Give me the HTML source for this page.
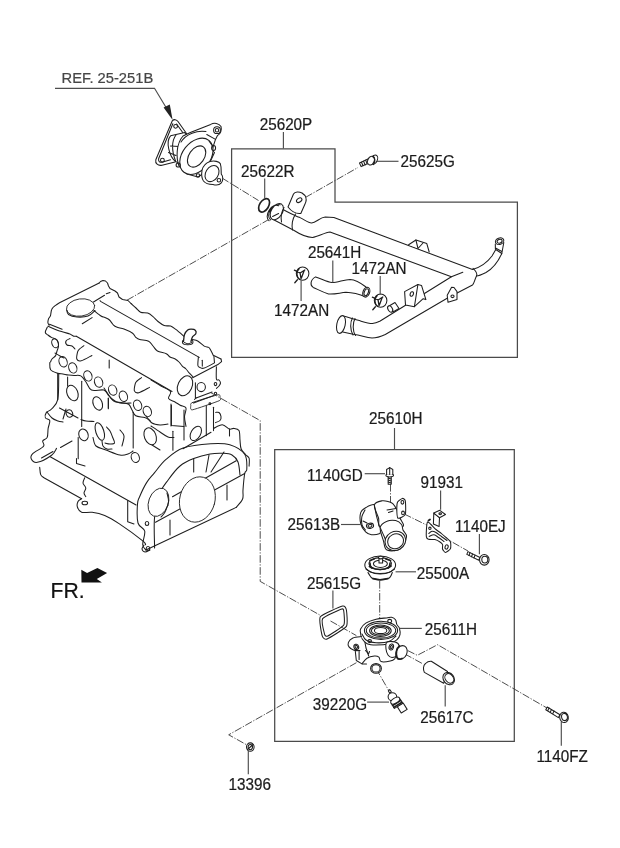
<!DOCTYPE html>
<html><head><meta charset="utf-8"><style>
html,body{margin:0;padding:0;background:#fff;}
svg{display:block;}
text{font-family:"Liberation Sans",sans-serif;font-size:15px;fill:#1a1a1a;}
.ln{fill:none;stroke:#4d4d4d;stroke-width:1.15;}
.bx{fill:none;stroke:#4a4a4a;stroke-width:1.25;}
.dd{fill:none;stroke:#3a3a3a;stroke-width:0.9;stroke-dasharray:7.6 1.6 1.2 1.6;}
.pt{fill:#fff;stroke:#1e1e1e;stroke-width:1.05;stroke-linejoin:round;stroke-linecap:round;}
.pn{fill:none;stroke:#1e1e1e;stroke-width:1.05;stroke-linejoin:round;stroke-linecap:round;}
.pe{fill:none;stroke:#2a2a2a;stroke-width:0.9;stroke-linejoin:round;stroke-linecap:round;}
.pf{fill:#fff;stroke:#2a2a2a;stroke-width:0.9;stroke-linejoin:round;stroke-linecap:round;}
</style></head><body>
<svg width="620" height="848" viewBox="0 0 620 848">
<rect width="620" height="848" fill="#fff"/>
<path class="dd" d="M127 300.2 L270.5 218.5"/>
<g id="engine">
<path class="pf" d="M47.7 322 L49.5 312.3 L57 304 L99.2 283 L104.5 280.8 L108 283.9 L110 288.5 L117 292 L119 297 L122.5 299.5 L131 303.5 L140.6 312.2 L153 316.6 L161 324.6 L173.5 328.1 L183.2 335.2 L193.9 340.6 L208 346.8 L213.4 355.6 L221.4 359.2 L221.5 363 L216.4 366.7 L216.4 379 L220 384 L216.4 388.5 L219.4 397.9 L213.5 407.3 L215.7 412.4 L213.5 428.4 L222.3 424.8 L233.9 428.4 L239 430.6 L241.1 448.7 L249.1 458.1 L249.1 466.1 L244.7 473.5 L242.6 499 L236.2 507.4 L145.9 550 L142.4 540.6 L119.4 523.9 L104.7 515.5 L92.1 512.3 L81.6 512.3 L77.4 509.2 L79.5 500.8 L43.9 477.7 L40.7 474.6 L39.7 467.3 L34.4 461 L31.3 454.7 L42.7 441 L47.2 437.4 L48.1 428.6 L45.4 417.9 L51.6 409 L57.8 399.3 L57.7 373 L49.8 369.7 L49.8 362.6 L45.3 330.6 Z" style="stroke:none"/>
<path class="pn" d="M49.2 325.3 C49 324.9 48 323.8 47.9 322.7 C47.8 321.6 48.1 320.1 48.5 318.9 C48.9 317.7 50 317.2 50.5 315.6 C51 314 50.9 310.9 51.8 309.2 C52.6 307.5 54.2 306.4 55.6 305.3 C57 304.2 59.3 303 60 302.5 L99.2 283"/>
<path class="pn" d="M99.2 283 L100.5 281.5 L103 280.5 L105.5 281 L107.5 283 L108.5 286 L110 288.5 L115 291 L117.5 293 L119 297 L122.5 299.5 L128 300.5 L131 303.5"/>
<path class="pn" d="M131 303.5 C131.8 304.2 134.4 306.6 136 308 C137.6 309.4 138.7 311.3 140.6 312.2 C142.5 313.1 145.6 312.4 147.7 313.1 C149.8 313.8 151.3 315.2 153 316.6 C154.7 318 156.1 320 158 321.5 C159.9 323 162.1 324.7 164.2 325.5 C166.3 326.3 168.7 325.5 170.6 326.1 C172.5 326.8 173.5 327.7 175.8 329.4 C178.1 331.1 182.8 335.3 184.2 336.5"/>
<path class="pn" d="M192.5 339.5 C193.4 339.8 195.8 339.9 197.7 341 C199.6 342.1 202.4 345 204.2 346.1 C206 347.2 207.6 346.8 208.7 347.4 C209.8 348 209.8 348.7 210.6 350 C211.3 351.3 212.8 354.3 213.2 355.2 L221 359"/>
<path class="pn" d="M221 359 L221.6 361.6 L218.4 364.2 L192.6 377.7"/>
<path class="pn" d="M198.4 357.1 C198.3 358.5 197.6 363.8 197.9 365.5 C198.2 367.2 198.9 367.1 200 367.5 C201.1 367.9 201.8 368.9 204.2 368.1 C206.6 367.3 212.8 363.8 214.5 362.9 L213.9 356.2"/>
<ellipse class="pt" cx="187.7" cy="342" rx="5.3" ry="2.8"/>
<path class="pt" d="M183.5 341.5 C183.7 340.3 183.8 336.4 184.5 334.5 C185.2 332.6 186.6 330.9 187.7 330 C188.8 329.1 190 329.2 191.3 329.2 C192.6 329.2 194.6 329.4 195.3 330.2 C196.1 331 196.3 332.7 195.8 333.8 C195.3 334.9 193.3 335.5 192.5 336.8 C191.7 338.1 191.2 340.7 191 341.5" style="stroke-width:1.3"/>
<path class="pn" d="M184.5 342.5 C185.1 342.7 186.8 343.8 188 343.8 C189.2 343.8 190.9 342.7 191.5 342.5"/>
<ellipse class="pf" cx="80.6" cy="307.5" rx="14.2" ry="8.6" transform="rotate(-8 80.6 307.5)"/>
<path class="pn" d="M66.7 310 C67 310.8 66.8 313.3 68.5 314.5 C70.2 315.7 73.8 316.8 77 317 C80.2 317.2 85 317.1 88 316 C91 314.9 93.8 311.4 95 310.5"/>
<path class="pn" d="M82.3 323.8 L92.1 317.6"/>
<path class="pn" d="M100 300.7 L101 301.6 L199.2 357.4"/>
<path class="pn" d="M93.9 310.5 C95.1 311.4 99.2 314.8 101 316 C102.8 317.2 103.6 316.8 105 317.5 C106.4 318.2 108.2 318.8 109.5 320 C110.8 321.2 111.8 323.3 113 324.5 C114.2 325.7 114.8 326.4 116.6 327.1 C118.4 327.9 121.3 328 124 329 C126.7 330 130.6 331.9 132.6 333.3 C134.6 334.7 134.8 336.5 136 337.5 C137.2 338.5 137.6 338.9 139.7 339.5 C141.8 340.1 146.4 340.2 148.6 341.3 C150.8 342.4 151.5 344.4 153 346 C154.5 347.6 155.2 349.7 157.4 351 C159.6 352.3 164.2 352.7 166.3 353.7 C168.4 354.7 168.5 356.1 170 357 C171.5 357.9 173.7 358.2 175.2 359 C176.7 359.8 177.8 360.8 179 362 C180.2 363.2 181.1 364.9 182.3 366.1 C183.5 367.3 184.8 367.8 186 369 C187.2 370.2 188.2 371.9 189.4 373.2 C190.6 374.5 192.3 376.2 192.9 376.8"/>
<path class="pn" d="M49.5 324.2 L62.1 329.2"/>
<path class="pn" d="M76.3 336.3 L172 391.5"/>
<path class="pn" d="M47.9 326.2 C49.6 326.9 54.4 329.2 58 330.5 C61.6 331.8 67.8 333.3 69.8 333.9 L73.7 336.3 L76.3 336.3"/>
<path class="pn" d="M47.3 327.3 C47 328.1 45.2 331.1 45.3 332.4 C45.4 333.7 46.8 334.1 47.9 335 C49 335.9 50.3 336.8 51.8 337.6 C53.3 338.4 55.9 338.6 57 340 C58.1 341.4 58.5 344.2 58.5 346 C58.5 347.8 57.5 349.4 57 351 C56.5 352.6 56.4 354.3 55.6 355.6 C54.8 356.9 52.9 357.9 52 359 C51.1 360.1 50.8 361.5 50.5 362"/>
<path class="pn" d="M70 338.5 C69.3 338.9 66.5 339.9 66 341 C65.5 342.1 66 344.2 67 345 C68 345.8 70.7 345.3 72 346 C73.3 346.7 74.5 348.5 75 349"/>
<ellipse class="pn" cx="55.1" cy="343.3" rx="3.2" ry="4.6" transform="rotate(-20 55.1 343.3)"/>
<ellipse class="pn" cx="63.1" cy="361.7" rx="4" ry="5.3" transform="rotate(-20 63.1 361.7)"/>
<ellipse class="pn" cx="72.8" cy="367.9" rx="4" ry="5.3" transform="rotate(-20 72.8 367.9)"/>
<ellipse class="pn" cx="87.9" cy="375.9" rx="4" ry="5.3" transform="rotate(-20 87.9 375.9)"/>
<ellipse class="pn" cx="98.6" cy="382.1" rx="4" ry="5.3" transform="rotate(-20 98.6 382.1)"/>
<ellipse class="pn" cx="112.7" cy="390.1" rx="4" ry="5.3" transform="rotate(-20 112.7 390.1)"/>
<ellipse class="pn" cx="123.4" cy="396.3" rx="4" ry="5.3" transform="rotate(-20 123.4 396.3)"/>
<ellipse class="pn" cx="137.6" cy="405.2" rx="4" ry="5.3" transform="rotate(-20 137.6 405.2)"/>
<ellipse class="pn" cx="147.3" cy="411.4" rx="4" ry="5.3" transform="rotate(-20 147.3 411.4)"/>
<ellipse class="pn" cx="72.4" cy="393" rx="5.4" ry="8" transform="rotate(-22 72.4 393)"/>
<ellipse class="pn" cx="97.7" cy="403.4" rx="4.5" ry="7" transform="rotate(-22 97.7 403.4)"/>
<ellipse class="pn" cx="150.2" cy="436.3" rx="5.8" ry="8.8" transform="rotate(-22 150.2 436.3)"/>
<ellipse class="pn" cx="195.8" cy="433.4" rx="4.8" ry="7.8" transform="rotate(30 195.8 433.4)"/>
<ellipse class="pn" cx="135.3" cy="457.5" rx="4" ry="5" transform="rotate(-20 135.3 457.5)"/>
<ellipse class="pn" cx="83.5" cy="434.8" rx="4.6" ry="6" transform="rotate(-20 83.5 434.8)"/>
<ellipse class="pn" cx="69.4" cy="413.5" rx="3.2" ry="3.8" transform="rotate(-20 69.4 413.5)"/>
<ellipse class="pn" cx="99.8" cy="431.5" rx="4" ry="9.2" transform="rotate(-18 99.8 431.5)"/>
<path class="pn" d="M49.8 362.6 C49.9 363.8 49.3 367.9 50.6 369.7 C51.9 371.5 55.6 372.5 57.7 373.2 C59.8 373.9 61.2 373.7 63 374 C64.8 374.3 66.6 374.8 68.4 375 C70.2 375.2 71.9 375.4 74 375.5 C76.1 375.6 78.8 374.8 80.8 375.9 C82.8 377 84.2 379.6 86 382 C87.8 384.4 88.5 388.8 91.5 390.1 C94.5 391.5 101 389.1 103.9 390.1 C106.8 391.1 107.2 394.1 109 396 C110.8 397.9 112.5 400.5 114.5 401.6 C116.5 402.7 118.6 402.1 121 402.5 C123.4 402.9 126.9 403.1 128.7 404.3 C130.5 405.6 130.8 408.1 132 410 C133.2 411.9 133.7 414.5 135.8 415.8 C137.9 417.1 142.3 416.8 144.7 417.6 C147.1 418.4 149.1 420 150 420.5"/>
<path class="pn" d="M83.9 345.7 C83.2 346.3 80.5 348.1 79.4 349.1 C78.4 350.1 78 350.2 77.6 351.9 C77.2 353.5 76.2 357.5 76.8 359 C77.4 360.5 78.7 361.4 81.2 360.8 C83.7 360.2 90.1 356.4 91.9 355.5"/>
<path class="pn" d="M141.5 377.6 C140.8 378.2 138.1 380 137 381 C135.9 382 135.6 382.1 135.2 383.8 C134.8 385.4 133.8 389.4 134.4 390.9 C135 392.4 136.3 393.3 138.8 392.7 C141.3 392.1 147.7 388.3 149.5 387.4"/>
<path class="pn" d="M81.7 381.2 L81.7 426.5"/>
<path class="pn" d="M109.2 359.9 L109.2 367.9"/>
<path class="pn" d="M108.3 398 L108.3 408.7"/>
<path class="pn" d="M133.2 412.3 L133.2 448"/>
<path class="pn" d="M67.6 377.1 L67.6 386"/>
<path class="pn" d="M78.2 437.4 L78.2 458.7"/>
<path class="pn" d="M108.4 398.4 L108.4 408.1"/>
<path class="pn" d="M195.4 382.7 L195.4 397.9"/>
<path class="pn" d="M206.3 405.2 L206.3 435.6"/>
<path class="pn" d="M213.5 407.3 L213.5 430.6"/>
<path class="pn" d="M172.9 431.3 L172.9 450.2"/>
<path class="pn" d="M57.7 373.2 L57.7 399.8"/>
<path class="pn" d="M171 404 L171 426"/>
<path class="pn" d="M184 410 L184 440"/>
<ellipse class="pn" cx="185" cy="385.8" rx="7" ry="10.5" transform="rotate(25 185 385.8)"/>
<ellipse class="pn" cx="201.2" cy="387" rx="4.2" ry="4.6"/>
<path class="pf" d="M192.5 402.5 C189.8 403.6 190.8 404.8 190.8 405.5 C190.8 406.2 189.7 410.3 192.5 409.8 C195.3 409.3 216.2 402 219 400.8 C221.8 399.6 220.1 398.1 220 397.5 C219.9 396.9 220.8 394.3 218 394.8 C215.2 395.3 195.2 401.4 192.5 402.5 Z"/>
<path class="pn" d="M193.5 403 L213.8 395.6"/>
<path class="pn" d="M196.1 397.9 L212.1 392.1"/>
<path class="pn" d="M194.5 399.5 L196.1 397.9"/>
<ellipse class="pn" cx="209.9" cy="403.7" rx="0.9" ry="0.9"/>
<path class="pn" d="M216.4 366.7 C216.4 368.8 216 376.8 216.4 379 C216.8 381.2 218.3 379.3 219 380 C219.7 380.7 220.5 382 220.5 383 C220.5 384 219.7 385.1 219 386 C218.3 386.9 216.8 388.1 216.4 388.5"/>
<ellipse class="pn" cx="215.5" cy="384" rx="1.3" ry="1.6"/>
<path class="pn" d="M215.7 412.4 C216.2 412.4 218.1 411.8 219 412.5 C219.9 413.2 220.8 415.2 221 416.5 C221.2 417.8 220.9 419.5 220 420.5 C219.1 421.5 216.2 422.2 215.5 422.6"/>
<path class="pn" d="M213.5 428.4 C215 427.8 219.6 424.7 222.3 424.8 C225 424.9 227.6 428.5 229.5 429.1 C231.4 429.7 232.3 428.1 233.9 428.4 C235.5 428.6 238 428.7 239 430.6 C240 432.5 239.7 437 240 440 C240.3 443 240.2 446.3 241.1 448.7 C242 451.1 244.2 452.9 245.5 454.5 C246.8 456.1 248.5 456.2 249.1 458.1 C249.7 460 249.1 464.8 249.1 466.1"/>
<path class="pn" d="M229.5 429.1 L229.5 436"/>
<path class="pn" d="M58.7 373.5 C58.6 377.8 59 393.4 57.8 399.3 C56.6 405.2 53.5 406.8 51.6 409 C49.7 411.2 47.3 411.1 46.3 412.6 C45.3 414.1 44.8 416.6 45.4 417.9 C46 419.2 49.3 418.8 49.8 420.6 C50.2 422.4 48.5 425.8 48.1 428.6 C47.7 431.4 48.1 435.3 47.2 437.4 C46.3 439.5 43.3 439.5 42.7 441 C42.1 442.5 45.2 444.2 43.6 446.3 C42 448.4 35.1 451.3 33 453.4 C30.9 455.5 30.5 457.2 31.2 458.7 C31.9 460.2 34 462.9 37.4 462.3 C40.8 461.7 48.4 457.5 51.6 455.2 C54.8 452.9 55.7 449.5 56.5 448.4"/>
<path class="pn" d="M47 412 C47.8 413 50.2 416.5 52 418 C53.8 419.5 56.2 420.3 58 421 C59.8 421.7 62.2 421.8 63 422"/>
<path class="pn" d="M39.7 467.3 C39.9 468.5 40 472.9 40.7 474.6 C41.4 476.3 43.4 477.2 43.9 477.7 L81.6 498.7"/>
<path class="pn" d="M50.2 456.8 L136.1 505"/>
<path class="pn" d="M84.8 477.7 C84.5 478.6 82.8 481.3 83 483 C83.2 484.7 85.6 486.3 85.8 488 C86 489.7 84 491.6 84 493 C84 494.4 85.5 496 85.8 496.6"/>
<path class="pn" d="M81.6 498.7 C81 499.2 78.7 500.1 78 501.5 C77.3 502.9 76.8 505.2 77.4 507 C78 508.8 79.1 511.4 81.6 512.3 C84 513.2 88.2 511.8 92.1 512.3 C95.9 512.8 100.2 513.6 104.7 515.5 C109.2 517.4 113.1 519.7 119.4 523.9 C125.7 528.1 138 537.1 142.4 540.6 C146.8 544.1 145.1 544.1 145.6 544.8"/>
<ellipse class="pn" cx="84.8" cy="503" rx="2.8" ry="1.8"/>
<path class="pn" d="M127.7 500.8 L127.7 521.8 L134 523.9"/>
<path class="pn" d="M145.9 550 C145.4 549.1 142.9 547.7 142.7 544.5 C142.5 541.3 145.5 534.6 144.7 531 C143.9 527.4 139.2 527.5 138 523 C136.8 518.5 137.2 508.3 137.5 504 C137.8 499.7 138 500.6 139.5 497 C141 493.4 144.1 486.6 146.6 482.6 C149.1 478.6 151.2 476.8 154.4 472.9 C157.6 469 161.2 463.5 166 459.4 C170.8 455.2 175.7 450.6 183.1 448 C190.5 445.4 202.9 444.2 210.7 443.7 C218.5 443.2 224.1 443 229.8 444.8 C235.5 446.6 241.9 450.2 244.7 454.3 C247.5 458.4 246.8 466 246.8 469.2 C246.8 472.4 245.3 470 244.7 473.5 C244.1 477 243.3 485.8 243 490 C242.7 494.2 243.7 496.1 242.6 499 C241.5 501.9 237.3 506 236.2 507.4"/>
<path class="pn" d="M145.9 550 L236.2 507.4"/>
<path class="pn" d="M154.6 548 C154.6 543.2 153.8 528 154.4 519.4 C155 510.8 155.8 502.8 158.2 496.1 C160.5 489.5 164.9 484.5 168.5 479.5 C172.1 474.5 175.8 469.5 180 466 C184.2 462.5 188.7 460.6 193.7 458.6 C198.7 456.6 205 454.9 210 454 C215 453.1 219.8 453.1 223.5 453.3 C227.2 453.5 229.6 453.6 232 455 C234.4 456.4 236.7 458.7 238 462 C239.3 465.3 239.7 472.8 240 475"/>
<path class="pn" d="M155.5 522.3 L244.7 473.5"/>
<path class="pn" d="M172.5 496.8 L236.2 460.7"/>
<path class="pn" d="M193.7 458.6 L193.7 472"/>
<path class="pn" d="M209 455 L206 472"/>
<path class="pn" d="M211 472 L224 452"/>
<path class="pn" d="M227 485 L227 500"/>
<path class="pn" d="M170 520 L170 535"/>
<ellipse class="pn" cx="147" cy="523.4" rx="1.8" ry="2"/>
<ellipse class="pn" cx="148" cy="548.5" rx="1.8" ry="2"/>
<path class="pn" d="M144 545 C143.7 545.7 141.8 547.8 142 549 C142.2 550.2 143.7 551.8 145 552 C146.3 552.2 149.2 550.3 150 550"/>
<path class="pn" d="M59.5 408 L78 418"/>
<path class="pn" d="M66 409 L63 419"/>
<path class="pn" d="M81 419.5 C81.8 419.8 83.8 420.7 86 421 C88.2 421.3 92.7 421.4 94 421.5"/>
<path class="pn" d="M106.5 427 C107.1 427.7 109 429.3 110 431 C111 432.7 111.8 435 112.5 437 C113.2 439 114.9 441.8 114.5 443 C114.1 444.2 111.6 444 110 444 C108.4 444 105.8 443.2 105 443"/>
<path class="pn" d="M102 441 C102.2 441.8 102.2 444.7 103 446 C103.8 447.3 105.5 448.5 107 449 C108.5 449.5 111.2 449 112 449"/>
<path class="pn" d="M93 437.5 C93.5 438.9 93.8 443.9 96 446 C98.2 448.1 102 448.5 106 450 C110 451.5 116.3 454.3 120 455 C123.7 455.7 125.8 454.7 128 454 C130.2 453.3 132.2 451.5 133 451"/>
<path class="pn" d="M76.5 458.5 L76.5 463.5 L85 466"/>
<path class="pn" d="M60.5 447.5 L72 441"/>
<path class="pn" d="M41.5 458 L53 451.5"/>
<path class="pn" d="M55 353 C55.8 353.5 58.5 355.2 60 356 C61.5 356.8 63.3 357.7 64 358"/>
<path class="pn" d="M202.3 360.3 L202.3 366.1"/>
<ellipse class="pn" cx="215.5" cy="393.5" rx="1.2" ry="1.2"/>
<path class="pn" d="M146 416 C147 417.2 149.7 421.5 152 423 C154.3 424.5 157.3 424.8 160 425 C162.7 425.2 166.7 424.2 168 424"/>
<path class="pn" d="M120 430 C120.7 431 123.7 433.3 124 436 C124.3 438.7 122.3 444.3 122 446"/>
<path class="pn" d="M152 445 L160 450"/>
<ellipse class="pf" cx="197.4" cy="499.5" rx="17.6" ry="23" transform="rotate(15 197.4 499.5)"/>
<ellipse class="pf" cx="158.5" cy="502.3" rx="9.8" ry="14.6" transform="rotate(20 158.5 502.3)"/>
<path class="pn" d="M167 493 C167.2 494.5 168.8 498.8 168.5 502 C168.2 505.2 166.2 509.5 165 512 C163.8 514.5 161.7 516.2 161 517"/>
<path class="pn" d="M151.1 380 C152.8 381 157.8 384.1 161 386 C164.2 387.9 169.2 389.5 170.5 391.6 C171.8 393.7 167.8 396.7 168.5 398.4 C169.2 400.1 173.1 400.9 175 402 C176.9 403.1 178.4 404.2 180.2 405.2 C182 406.2 185.3 406.1 186 408 C186.7 409.9 184.5 413.7 184.5 416.8 C184.5 419.9 185.8 424.8 186 426.4"/>
<path class="pn" d="M171.4 405.2 L171.4 425.5 L184 426.4"/>
<path class="pn" d="M151 426 C152.5 427 157.2 430.2 160 432 C162.8 433.8 165.7 436.1 168 437 C170.3 437.9 173 437.4 174 437.5"/>
<path class="pn" d="M183 448.7 L211 432.3"/>
<path class="pn" d="M104 388 C105.3 389.8 109.3 396.5 112 399 C114.7 401.5 116.8 402.3 120 403 C123.2 403.7 129.2 403 131 403"/>
<path class="pn" d="M93.5 302 L104.5 295.3"/>
<path class="pn" d="M106.3 293.8 L110 292.6"/>
</g>
<path class="bx" d="M231.6 357.4 V148.8 H335 V202.2 H517.4 V357.4 Z"/>
<path class="bx" d="M274.7 449.5 H514.3 V741.3 H274.7 Z"/>
<!-- REF housing -->
<g id="refpart">
<path class="pt" d="M172.3 120.8 C174 119 176.5 119.3 178 121.5 L186.5 133.5 L175 162 L162 165.2 C158 166 155 163.5 155.8 159.8 Z"/>
<path class="pn" d="M172.8 123.8 L158.6 158.8 C158.2 161.2 159.6 162.6 162 162.2 L170.5 159.8 M176.6 124 L183.8 134"/>
<circle class="pn" cx="175.6" cy="126.3" r="1.9"/>
<circle class="pn" cx="162.4" cy="160.2" r="1.9"/>
<path class="pt" d="M170.6 135.8 L184.8 132.6 L194 148 L184 166 L175.8 161.6 C169 157 165.5 141 170.6 135.8 Z"/>
<path class="pn" d="M168.5 152.6 L176 155.5 M170.5 146 L179 146.5 M176 135 C172 140 171 150 175.8 161.6"/>
<path class="pt" d="M183 136 L190.3 132.6 L210.7 124.4 C214 122.5 219 123 221 126.5 C222 130 220.5 134 217.5 135.5 L215.5 139.4 L212 150 L214.5 152.5 L211 160 L204 173 L198 177 L187 174 L179 166 C176 158 176 144 183 136 Z"/>
<ellipse class="pt" cx="196.4" cy="156.3" rx="14" ry="20.2" transform="rotate(38 196.4 156.3)"/>
<path class="pn" d="M181 142 C186 134 197 130 206 131.5"/>
<ellipse class="pn" cx="196.6" cy="156.5" rx="7.6" ry="11.8" transform="rotate(35 196.6 156.5)"/>
<circle class="pn" cx="217" cy="130.2" r="3.4"/>
<circle class="pn" cx="217" cy="130.2" r="1.7"/>
<path class="pn" d="M206.8 134.5 L215.5 139.4 M209 141 L212.5 146 M213.6 148 m-2 0 a2 2.5 0 1 0 4 0 a2 2.5 0 1 0 -4 0"/>
<circle class="pn" cx="178.2" cy="165" r="2.1"/>
<circle class="pn" cx="198" cy="175.4" r="1.7"/>
<path class="pt" d="M202 170.3 C203 166 206.8 162.6 210 161.5 C214.5 160.5 219 161.5 220.3 163.6 C221.5 167 221 171 221.3 174.2 C223 176 223.5 180.5 221.3 182.9 C219.5 185 216.5 185.5 213 184.5 C209 184.5 205 183 203.5 181 C201.5 178 201.5 173.5 202 170.3 Z"/>
<ellipse class="pn" cx="212" cy="173.6" rx="6.3" ry="8.6" transform="rotate(32 212 173.6)"/>
<circle class="pn" cx="218.9" cy="180.2" r="1.8"/>
</g>
<!-- pipe assembly -->
<g id="pipes">
<!-- upper pipe -->
<path class="pt" d="M282 209 C288 212 294 215.5 300 217.6 C305 220 308.5 223 311.6 222.9 C316 222.5 320 217.5 325.2 217.1 L333.9 217.6 L472.5 269.5 C478 268 486 264 492 256 L495.8 249.5 L501.8 253.5 C498 262 492 269 486 272.5 C482 274.5 478.5 276 476.5 276 C474.5 280 474 284 472.5 285 L448 297.8 L385.3 334.5 C380 337 376 338 372 338 C366 337.5 360 335 354.4 334.5 L342.7 332 L342.7 315.8 C348 317 353 319 358.2 320.3 C364 322 368 323.5 372.4 323.5 C376 323 378 322 380.2 321 L451.4 276.7 L330 232 C325 232.5 318 236.5 312.6 237.4 C306 237.5 301 235 293.7 230.3 L271.8 218.7 Z"/>
<path class="pn" d="M451.4 276.7 L462.8 272.3 M473 268.3 C476 271 477.5 274 476.5 276"/>
<!-- nozzle upper left -->
<path class="pt" d="M281.5 204.1 A5.5 8.8 32 0 0 272.1 219.1 M280.0 204.9 A5.5 8.8 32 0 0 270.6 219.9 M278.5 205.7 A5.5 8.8 32 0 0 269.1 220.7 M281.5 204.1 A5.5 8.8 32 0 1 272.1 219.1"/>
<path class="pn" d="M272.6 216.5 L278.6 213.5 M284 207.5 C281.5 212 280.5 217 281.5 222 M295.5 214 C292.5 219 291.5 225 292.5 230"/>
<!-- bracket upper left -->
<path class="pt" d="M288 207 L293.5 194 C295 191.5 299 191.5 302 193 L305 195.5 C306.5 198 306 202 305 204 L300.8 213.5 C297 214 292 212 288 207 Z"/>
<ellipse class="pn" cx="299.2" cy="200.2" rx="3" ry="1.9" transform="rotate(-35 299.2 200.2)"/>
<!-- top bracket on pipe -->
<path class="pt" d="M408.6 244.8 L415.9 240 L426.8 243.6 L429.2 252"/>
<path class="pn" d="M415.9 240 L418 248.5 M423 243 L418 248.5"/>
<!-- right nozzle -->
<ellipse class="pt" cx="499.6" cy="241.2" rx="4.3" ry="3.2" transform="rotate(-20 499.6 241.2)"/>
<ellipse class="pn" cx="499.6" cy="241.2" rx="2.6" ry="1.8" transform="rotate(-20 499.6 241.2)"/>
<path class="pn" d="M495.4 249.3 L495.3 244 M501.8 253.5 L503.8 242.5 M495.5 248 L501.8 251.5"/>
<!-- lower nozzle ellipse left -->
<ellipse class="pt" cx="341" cy="324.5" rx="4.2" ry="9" transform="rotate(12 341 324.5)"/>
<path class="pn" d="M352.5 318 C350 322 350 330 353 335 M355 318.5 C352.5 323 352.5 331 355.5 335.5"/>
<!-- mid bracket on lower pipe -->
<path class="pt" d="M404.6 291.6 L417.9 284.5 L421.5 285.4 L425.9 299.6 L423.2 298.7 L414.4 306.7 L405.5 304.9 Z"/>
<path class="pn" d="M417.9 284.5 L414.4 306.7"/>
<ellipse class="pn" cx="411.8" cy="294" rx="1.6" ry="2.3" transform="rotate(20 411.8 294)"/>
<!-- right tab -->
<path class="pt" d="M447.2 295.2 L451.6 287.2 L454 287.5 L457 291.6 L457 299.6 L448 302.3 Z"/>
<ellipse class="pn" cx="452.5" cy="296.3" rx="1.6" ry="1.3"/>
<!-- small stub -->
<path class="pt" d="M389 306 L395 302.5 L399 308.5 L393 312 Z"/>
<ellipse class="pt" cx="390.2" cy="309" rx="2.2" ry="3.4" transform="rotate(-30 390.2 309)"/>
<!-- hose 25641H -->
<path class="pt" d="M315.6 276.9 C322 279 327 282 332 282.6 C338 282.5 344 279.5 350 279.4 C356 279.5 361 283 366 287 L366 297 C360 294.5 354 292.5 346 292.3 C339 293 334 294.5 328.5 293.9 C322 292 318 289.5 313.2 287.4 C310 285.5 310 280 315.6 276.9 Z"/>
<ellipse class="pt" cx="366.3" cy="292.2" rx="3.3" ry="5" transform="rotate(22 366.3 292.2)"/>
<ellipse class="pn" cx="366.3" cy="292.2" rx="2" ry="3.6" transform="rotate(22 366.3 292.2)"/>
<!-- clamps -->
<g transform="translate(302.6 273.6)">
<ellipse class="pt" cx="0" cy="0" rx="6.3" ry="6.6"/>
<path class="pn" d="M-3.5 -4.8 C-6.5 -2 -6.5 3 -3 5.8 M-8.2 -3.4 L-2.5 -0.6 L2.2 -3.6 M-2.5 -0.6 L-1.6 5 M1.6 -3 L-1.2 4.5 M-7.8 9.2 L-5.2 6.2" style="stroke-width:1.3"/>
</g>
<g transform="translate(380.6 300.6)">
<ellipse class="pt" cx="0" cy="0" rx="6.3" ry="6.6"/>
<path class="pn" d="M-3.5 -4.8 C-6.5 -2 -6.5 3 -3 5.8 M-8.2 -3.4 L-2.5 -0.6 L2.2 -3.6 M-2.5 -0.6 L-1.6 5 M1.6 -3 L-1.2 4.5 M-7.8 9.2 L-5.2 6.2" style="stroke-width:1.3"/>
</g>
<!-- o-ring -->
<ellipse class="pn" cx="264.1" cy="205.3" rx="4.5" ry="7.4" transform="rotate(32 264.1 205.3)" style="stroke-width:1.7"/>
<!-- bolt 25625G -->
<path class="pt" d="M359.5 163 L361.1 166.6 L369.5 162.7 L367.9 159.1 Z"/>
<path class="pn" d="M361.5 162.2 L363 165.8 M363.6 161.3 L365.1 164.9 M365.7 160.3 L367.2 163.9"/>
<ellipse class="pt" cx="374.2" cy="159.6" rx="3.1" ry="4.9" transform="rotate(25 374.2 159.6)"/>
<ellipse class="pt" cx="371" cy="160.6" rx="3.2" ry="4.5" transform="rotate(25 371 160.6)"/>
<path class="pn" d="M372.8 156.5 C375 157.5 375.5 161 373.5 164.5" style="stroke-width:1.4"/>
</g>
<!-- leaders pipe area -->
<path class="ln" d="M264.7 178.5 V198"/>
<path class="ln" d="M377 161.3 H398.5"/>
<path class="ln" d="M332.8 260.5 V282.6"/>
<path class="ln" d="M380.2 276 V294.7"/>
<path class="ln" d="M301.1 280.2 V301.1"/>
<!-- dash lines pipe area -->
<path class="dd" d="M222 178 L258.5 200.5"/>
<path class="dd" d="M305.5 197.4 L358 167.5"/>
<g id="thermo">
<path class="dd" d="M210.2 392.3 L260.2 420.6 V581.4 L320.3 615.3"/>
<path class="dd" d="M330.5 621 L356.4 635.6"/>
<path class="dd" d="M356.4 662.7 L228.7 734.8 L247 745"/>
<path class="dd" d="M390.5 484 V502.7"/>
<path class="dd" d="M404.2 514 L427 525.2"/>
<path class="dd" d="M442.3 536.5 L468 551"/>
<path class="dd" d="M379.7 581 V630"/>
<path class="dd" d="M376 668.4 L389.3 691.5"/>
<path class="dd" d="M404.7 653.9 L423.1 664"/>
<path class="dd" d="M407.6 650.5 L417.3 655.3 L437.6 644.7 L548 708.6"/>
<path class="pt" d="M388.2 476 L388.2 484.2 L391.2 484.2 L391.2 476 Z"/>
<path class="pn" d="M388.2 478 L391.2 479 M388.2 480 L391.2 481 M388.2 482 L391.2 483"/>
<ellipse class="pt" cx="389.7" cy="475.3" rx="3.8" ry="1.6"/>
<path class="pt" d="M386.6 474.5 L386.6 469.5 L389.7 467.6 L392.8 469.5 L392.8 474.5"/>
<path class="pn" d="M389.7 467.6 V474.5"/>
<path class="pt" d="M366 507.5 C368.3 506.2 372.2 503.9 374.4 504.7 C376.6 505.4 377.9 509.1 379 512 C380.1 514.9 380.8 518.8 381 522 C381.2 525.2 380.8 529 380.5 531 C380.2 533 380.7 533.2 379.2 533.8 C377.7 534.4 373.8 535 371.5 534.7 C369.2 534.4 367.4 533.6 365.6 531.8 C363.8 530 361.6 527.2 360.8 524 C360 520.8 359.9 515.1 360.8 512.4 C361.7 509.6 363.7 508.8 366 507.5 Z"/>
<path class="pn" d="M365 510 C364.5 511.2 362.3 514.5 361.8 517 C361.3 519.5 361.4 522.8 362 525 C362.6 527.2 364.9 529.2 365.5 530"/>
<ellipse class="pt" cx="370" cy="525.8" rx="3.6" ry="2.6" transform="rotate(-10 370 525.8)"/>
<ellipse class="pn" cx="370" cy="525.8" rx="2" ry="1.4" transform="rotate(-10 370 525.8)"/>
<path class="pn" d="M363 521 L367 523"/>
<path class="pt" d="M374.4 505 C375 502.1 379.7 501.3 382.1 500.8 C384.5 500.3 387.1 501.3 388.9 501.8 C390.7 502.3 391.4 502.3 392.8 503.7 C394.2 505.1 395.8 507.6 397 510 C398.2 512.4 399.1 515.2 400 518 C400.9 520.8 405.6 525.3 402.4 527 C399.2 528.7 385 529.5 381 528 C377 526.5 379.6 521.8 378.5 518 C377.4 514.2 373.8 507.9 374.4 505 Z"/>
<path class="pn" d="M374.4 505.6 C374.8 507.3 375.7 512.6 376.5 516 C377.3 519.4 378.8 524.3 379.2 526"/>
<path class="pn" d="M387 510 L396 508.6"/>
<path class="pn" d="M388.5 512.5 L393 511"/>
<path class="pt" d="M397.6 502 C398.2 501 401.6 498.5 402.4 498.4 C403.2 498.3 405 499.2 405.3 500.8 C405.6 502.4 406 512.7 405.3 514.4 C404.6 516.1 398.9 518.8 398 518.2 C397.1 517.6 396.8 509.6 396.8 508 C396.8 506.4 397 503 397.6 502 Z"/>
<ellipse class="pn" cx="402.4" cy="502.3" rx="1.4" ry="1.8"/>
<ellipse class="pn" cx="403" cy="512.9" rx="1.4" ry="1.8"/>
<path class="pt" d="M380.2 527.5 C380.8 524.2 384.4 522.4 387 521.3 C389.6 520.1 393.3 520.1 395.7 520.6 C398.1 521.1 400.3 522.9 401.5 524.5 C402.7 526.1 402.2 527.9 403 530 C403.8 532.1 407 533.8 406.5 537 C406 540.2 403.2 546.8 400 549 C396.8 551.2 389.8 551.3 387 550 C384.2 548.7 384.6 544.8 383.5 541 C382.4 537.2 379.6 530.8 380.2 527.5 Z"/>
<path class="pn" d="M380.6 528.5 C381.2 529.8 383.1 533.9 384 536 C384.9 538.1 385.7 540.2 386 541"/>
<ellipse class="pt" cx="395.3" cy="540.9" rx="10.6" ry="9.4" transform="rotate(-28 395.3 540.9)"/>
<ellipse class="pn" cx="395.6" cy="541.3" rx="8.2" ry="7.3" transform="rotate(-28 395.6 541.3)"/>
<path class="pt" d="M427.5 522 C427 522.6 426.5 528.3 426.4 530 C426.3 531.7 426.2 535.7 426.4 536.8 C426.6 537.9 427.5 539 428.5 539.3 C429.5 539.6 433.6 539.3 434.9 539.6 C436.2 539.9 439.1 541.4 440 542 C440.9 542.6 442.3 543.8 442.6 544.6 C442.9 545.4 442.2 548.1 442.5 549 C442.8 549.9 444.6 552.4 445.5 552.4 C446.4 552.4 449.8 550 450.4 548.8 C451 547.6 450.9 543.1 450.4 541.8 C449.9 540.5 447.1 538.5 446 537.5 C444.9 536.5 442.4 534.2 441.2 533.3 C440 532.4 437.2 530.5 436 529.5 C434.8 528.5 432 525.4 431 524.5 C430 523.6 428 521.4 427.5 522 Z"/>
<path class="pn" d="M428.8 533.5 C429.3 533.1 430.8 531.4 432 531.2 C433.2 531 434.4 531.6 436 532.5 C437.6 533.4 439.7 535.2 441.5 536.5 C443.3 537.8 446.1 539.8 447 540.5"/>
<path class="pn" d="M429.2 536.5 C430 536.2 432.4 534.6 434 534.8 C435.6 535 437.3 536.7 439 537.8 C440.7 538.9 443.2 540.9 444 541.5"/>
<ellipse class="pn" cx="446.6" cy="547" rx="1.5" ry="2.2" transform="rotate(20 446.6 547)"/>
<ellipse class="pn" cx="429.9" cy="528.3" rx="1.2" ry="1.2"/>
<path class="pt" d="M433.8 513.1 L433.4 524.1 L439.1 526.5 L439.5 517.7 Z"/>
<path class="pt" d="M433.8 513.1 L439.8 510.3 L445.5 514.5 L439.5 517.7 Z"/>
<ellipse class="pn" cx="440.2" cy="513.8" rx="1.3" ry="0.9"/>
<path class="pn" d="M428.5 520.5 L430 519.5" style="stroke-width:1.8"/>
<path class="pt" d="M468 551.6 L480 557.5 L478.8 560.3 L466.8 554.4 Z"/>
<path class="pn" d="M470 552.8 L469 555.5 M472.5 554 L471.5 556.7 M475 555.2 L474 557.9"/>
<ellipse class="pt" cx="484.3" cy="559.8" rx="4.8" ry="5.3"/>
<ellipse class="pn" cx="484.8" cy="559.6" rx="3" ry="3.4"/>
<path class="pt" d="M368 572.5 C368.4 573.2 369.7 575.5 370.5 576.5 C371.3 577.5 371.4 578.1 373 578.6 C374.6 579.1 377.5 579.6 380 579.6 C382.5 579.6 386.1 579.1 387.8 578.6 C389.6 578.1 389.8 577.5 390.5 576.5 C391.2 575.5 392 573.2 392.3 572.5"/>
<path class="pn" d="M373 578.6 C374.2 578.8 377.5 579.8 380 579.8 C382.5 579.8 386.5 578.8 387.8 578.6" style="stroke-width:1.8"/>
<ellipse class="pt" cx="380.2" cy="565" rx="15.4" ry="9"/>
<path class="pn" d="M366 569 C367 569.6 369.7 571.8 372 572.5 C374.3 573.2 377.2 573.5 380 573.5 C382.8 573.5 386.6 573.2 389 572.5 C391.4 571.8 393.6 569.6 394.5 569"/>
<ellipse class="pn" cx="380.2" cy="563.6" rx="11.2" ry="6"/>
<path class="pn" d="M370 563 C370.2 563.8 369.8 566.4 371.5 567.5 C373.2 568.6 377.2 569.5 380 569.5 C382.8 569.5 386.8 568.6 388.5 567.5 C390.2 566.4 389.8 563.8 390 563" style="stroke-width:1.6"/>
<ellipse class="pn" cx="380.4" cy="563.8" rx="7" ry="3.6"/>
<path class="pn" d="M370 560.5 L374 559 M386 559 L390.5 560.5 M369.5 566.5 L372 568 M388 568 L391 566" style="stroke-width:1.8"/>
<path class="pt" d="M379 558 L379 563 L382.6 563 L382.6 558"/>
<ellipse class="pt" cx="380.8" cy="557.6" rx="2.4" ry="1.3"/>
<path class="pn" d="M320.3 616.8 C322 614.3 340.4 606.7 342.6 606.1 C344.8 605.5 346.1 608.3 346.4 610 C346.7 611.7 348 624 346.4 626.4 C344.8 628.8 329.1 638.2 327.1 639 C325.1 639.8 322.9 638 322.3 636.1 C321.7 634.2 318.6 619.3 320.3 616.8 Z"/>
<path class="pn" d="M322.6 618.6 C324 616.5 340 609.6 341.8 609 C343.6 608.4 343.6 610.2 343.8 611.5 C344 612.8 345.1 623 343.8 625 C342.5 627 329.4 635.2 327.8 636 C326.2 636.8 325 635.8 324.6 634.3 C324.2 632.8 321.2 620.7 322.6 618.6 Z"/>
<path class="pf" d="M361 637 L398 638 L399 655 L395 659 L390 661 L381 661.5 L376 663 L367 664 L362 663.5 L357 660 L355 650 Z" style="stroke:none"/>
<path class="pn" d="M362 663.8 C362.8 662.9 364.9 659.5 367 658.2 C369.1 656.9 372.4 656.2 374.4 656 C376.4 655.8 377.8 656.2 378.9 657.1 C380 658 379.2 661 381.1 661.6 C383 662.2 387.9 661.5 390.2 661 C392.5 660.5 393.8 659.7 394.7 658.8 C395.6 657.9 395.6 656 395.8 655.4"/>
<path class="pn" d="M364.8 641.3 L366 648 L368.7 656"/>
<path class="pn" d="M365.5 650.5 L368.5 654 L369.5 651.5"/>
<path class="pt" d="M360.6 628.9 C361.5 627.2 363.2 624.7 365.8 623.1 C368.4 621.5 372.7 620.1 376.1 619.2 C379.6 618.3 383.9 618.2 386.5 617.9 C389.1 617.6 390.1 617 391.6 617.3 C393.1 617.6 394.6 618.6 395.5 619.8 C396.4 621 396.2 623 396.8 624.4 C397.4 625.8 398.9 626.5 399.4 628.2 C399.9 629.9 400.4 632.8 400 634.7 C399.6 636.6 398.6 638.3 396.8 639.8 C395 641.3 392.4 642.8 389 643.7 C385.6 644.6 379.8 645 376.1 645 C372.5 645 369.5 644.8 367.1 643.7 C364.7 642.6 363 640.2 361.9 638.5 C360.8 636.8 360.8 635 360.6 633.4 C360.4 631.8 359.7 630.6 360.6 628.9 Z"/>
<path class="pn" d="M362 634 C362.7 635 363.7 638.5 366 640 C368.3 641.5 372.2 642.5 376 642.8 C379.8 643 385.7 642.6 389 641.5 C392.3 640.4 394.8 636.9 396 636"/>
<ellipse class="pn" cx="389.7" cy="621.1" rx="2" ry="1.7"/>
<ellipse class="pn" cx="369.7" cy="641.1" rx="1.8" ry="1.5"/>
<ellipse class="pn" cx="381" cy="630.4" rx="16.6" ry="9.1"/>
<ellipse class="pn" cx="381" cy="630.5" rx="14.7" ry="7.6"/>
<ellipse class="pn" cx="380.4" cy="630.7" rx="10.8" ry="5.7"/>
<ellipse class="pn" cx="380.4" cy="630.7" rx="9" ry="4.4"/>
<ellipse class="pn" cx="380.6" cy="630.5" rx="6.2" ry="3.1"/>
<path class="pt" d="M361.5 636.5 C360.1 636.7 355.1 636.9 352.9 637.9 C350.7 638.9 349 640.9 348.4 642.4 C347.8 643.9 348.1 645.6 349 646.9 C349.9 648.2 352.2 649.7 354 650.3 C355.8 650.9 359 650.5 360 650.5"/>
<ellipse class="pt" cx="356.3" cy="646.9" rx="2.4" ry="2.7" transform="rotate(-15 356.3 646.9)"/>
<ellipse class="pn" cx="356.3" cy="646.9" rx="1.2" ry="1.5" transform="rotate(-15 356.3 646.9)"/>
<path class="pn" d="M355.2 650.3 L356.3 660.5 L362 663.9 L366.5 663.9"/>
<path class="pn" d="M359.1 650.3 L359.1 659.4"/>
<path class="pt" d="M386.8 642.4 C388.3 641.2 393 641.5 395 642 C397 642.5 398.7 643.3 399 645.5 C399.3 647.7 398.2 653 397 655 C395.8 657 393.5 657.5 392 657.5 C390.5 657.5 389 656.4 388 655 C387 653.6 386.2 651.1 386 649 C385.8 646.9 385.3 643.6 386.8 642.4 Z"/>
<ellipse class="pt" cx="391.3" cy="647" rx="2.2" ry="3" transform="rotate(15 391.3 647)"/>
<ellipse class="pn" cx="391.3" cy="647" rx="1" ry="1.6" transform="rotate(15 391.3 647)"/>
<ellipse class="pt" cx="401.5" cy="652.4" rx="5.4" ry="7" transform="rotate(25 401.5 652.4)"/>
<path class="pn" d="M399.5 646 C396.5 648 395.5 654 397 657.5 C398 659.5 400 659.5 402 658.5" style="stroke-width:1.7"/>
<ellipse class="pt" cx="376" cy="668.4" rx="5.4" ry="4.8"/>
<ellipse class="pn" cx="376" cy="668.4" rx="4.1" ry="3.6"/>
<path class="pt" d="M388.3 690.8 L389.7 689.6 L391.3 691.8 L389.8 693.6 Z"/>
<ellipse class="pt" cx="392.4" cy="696.8" rx="4.3" ry="4.1"/>
<g transform="rotate(-32 398 705)"><path class="pt" d="M396.5 706 L403.5 706 L403.5 713.5 L396.5 713.5 Z"/>
<path class="pt" d="M393.2 700 L402.8 700 L402.8 706 L393.2 706 Z"/>
<path class="pn" d="M393.2 702.5 H402.8 M393.2 704.8 H402.8" style="stroke-width:1.7"/>
<ellipse class="pt" cx="398" cy="699.8" rx="5" ry="2.6"/>
</g>
<path class="pt" d="M431.3 661.2 L447.5 671.5 L443.7 683.3 L424.4 672.4 C423 670 423 665.5 425.5 663.5 C427 662 429 661 431.3 661.2 Z"/>
<ellipse class="pt" cx="448.7" cy="678.6" rx="5.3" ry="6.6" transform="rotate(-38 448.7 678.6)"/>
<ellipse class="pn" cx="449.3" cy="678.4" rx="3.9" ry="5.2" transform="rotate(-38 449.3 678.4)"/>
<path class="pt" d="M547.2 707 L560 714.8 L558.4 717.6 L545.8 709.8 Z"/>
<path class="pn" d="M549 708 L547.8 710.6 M551.5 709.5 L550.3 712.1 M554 711 L552.8 713.6"/>
<ellipse class="pt" cx="564" cy="717.4" rx="4.3" ry="5.2" transform="rotate(-10 564 717.4)"/>
<ellipse class="pn" cx="564.5" cy="717" rx="2.9" ry="3.6" transform="rotate(-10 564.5 717)"/>
<ellipse class="pt" cx="250.3" cy="747.1" rx="3.8" ry="4.2"/>
<ellipse class="pn" cx="250.3" cy="747.1" rx="2.2" ry="2.6"/>
<path class="pn" d="M247.5 749.5 L253 744.5"/>
<path class="ln" d="M364.7 473.7 H385"/>
<path class="ln" d="M440.6 490.5 V509.8"/>
<path class="ln" d="M341 524.5 H360.6"/>
<path class="ln" d="M479.4 534 V554.2"/>
<path class="ln" d="M395.6 571.8 H416"/>
<path class="ln" d="M332.9 590.6 V608.5"/>
<path class="ln" d="M399.4 628.4 H421.8"/>
<path class="ln" d="M367.1 702.1 H389"/>
<path class="ln" d="M445.2 685.2 V706.5"/>
</g>
<path class="ln" d="M55 88.3 H154.5 L170 114"/>
<path d="M163.6 107.6 L172.6 120 L169.8 104.6 Z" fill="#222"/>
<path class="ln" d="M283.4 132 V148.6"/>
<path class="ln" d="M394.5 428 V449.5"/>
<path class="ln" d="M248.3 751 V774.2"/>
<path class="ln" d="M561.3 721.6 V745.8"/>
<path d="M81.3 569.8 L87.1 573 L97.4 567.9 L107.1 573 L96.8 578.9 L101.9 582.4 L81.5 582.4 Z" fill="#111"/>
<g id="labels" style="opacity:0.995">
<text transform="translate(61.6 83.3) scale(0.95 1)" style="font-size:15.5px;fill:#454545;stroke:#454545;stroke-width:0.22">REF. 25-251B</text>
<text transform="translate(259.7 130.4) scale(0.972 1)" style="font-size:15.7px;fill:#1a1a1a;stroke:#1a1a1a;stroke-width:0.22">25620P</text>
<text transform="translate(241.1 176.6) scale(0.972 1)" style="font-size:15.7px;fill:#1a1a1a;stroke:#1a1a1a;stroke-width:0.22">25622R</text>
<text transform="translate(400.5 167.4) scale(0.972 1)" style="font-size:15.7px;fill:#1a1a1a;stroke:#1a1a1a;stroke-width:0.22">25625G</text>
<text transform="translate(307.9 258.1) scale(0.972 1)" style="font-size:15.7px;fill:#1a1a1a;stroke:#1a1a1a;stroke-width:0.22">25641H</text>
<text transform="translate(351.5 273.9) scale(0.972 1)" style="font-size:15.7px;fill:#1a1a1a;stroke:#1a1a1a;stroke-width:0.22">1472AN</text>
<text transform="translate(274.1 316.3) scale(0.972 1)" style="font-size:15.7px;fill:#1a1a1a;stroke:#1a1a1a;stroke-width:0.22">1472AN</text>
<text transform="translate(369.1 424) scale(0.972 1)" style="font-size:15.7px;fill:#1a1a1a;stroke:#1a1a1a;stroke-width:0.22">25610H</text>
<text transform="translate(307.1 481) scale(0.972 1)" style="font-size:15.7px;fill:#1a1a1a;stroke:#1a1a1a;stroke-width:0.22">1140GD</text>
<text transform="translate(420.5 488) scale(0.972 1)" style="font-size:15.7px;fill:#1a1a1a;stroke:#1a1a1a;stroke-width:0.22">91931</text>
<text transform="translate(287.6 530) scale(0.972 1)" style="font-size:15.7px;fill:#1a1a1a;stroke:#1a1a1a;stroke-width:0.22">25613B</text>
<text transform="translate(455.1 532) scale(0.972 1)" style="font-size:15.7px;fill:#1a1a1a;stroke:#1a1a1a;stroke-width:0.22">1140EJ</text>
<text transform="translate(416.7 578.9) scale(0.972 1)" style="font-size:15.7px;fill:#1a1a1a;stroke:#1a1a1a;stroke-width:0.22">25500A</text>
<text transform="translate(306.9 589) scale(0.972 1)" style="font-size:15.7px;fill:#1a1a1a;stroke:#1a1a1a;stroke-width:0.22">25615G</text>
<text transform="translate(424.7 635.1) scale(0.972 1)" style="font-size:15.7px;fill:#1a1a1a;stroke:#1a1a1a;stroke-width:0.22">25611H</text>
<text transform="translate(312.8 709.7) scale(0.972 1)" style="font-size:15.7px;fill:#1a1a1a;stroke:#1a1a1a;stroke-width:0.22">39220G</text>
<text transform="translate(420.2 722.5) scale(0.972 1)" style="font-size:15.7px;fill:#1a1a1a;stroke:#1a1a1a;stroke-width:0.22">25617C</text>
<text transform="translate(228.5 789.7) scale(0.972 1)" style="font-size:15.7px;fill:#1a1a1a;stroke:#1a1a1a;stroke-width:0.22">13396</text>
<text transform="translate(536.5 762) scale(0.972 1)" style="font-size:15.7px;fill:#1a1a1a;stroke:#1a1a1a;stroke-width:0.22">1140FZ</text>
<text transform="translate(50.6 597.8) scale(0.96 1)" style="font-size:22px;fill:#111;stroke:#111;stroke-width:0.22">FR.</text>
</g>
</svg>
</body></html>
